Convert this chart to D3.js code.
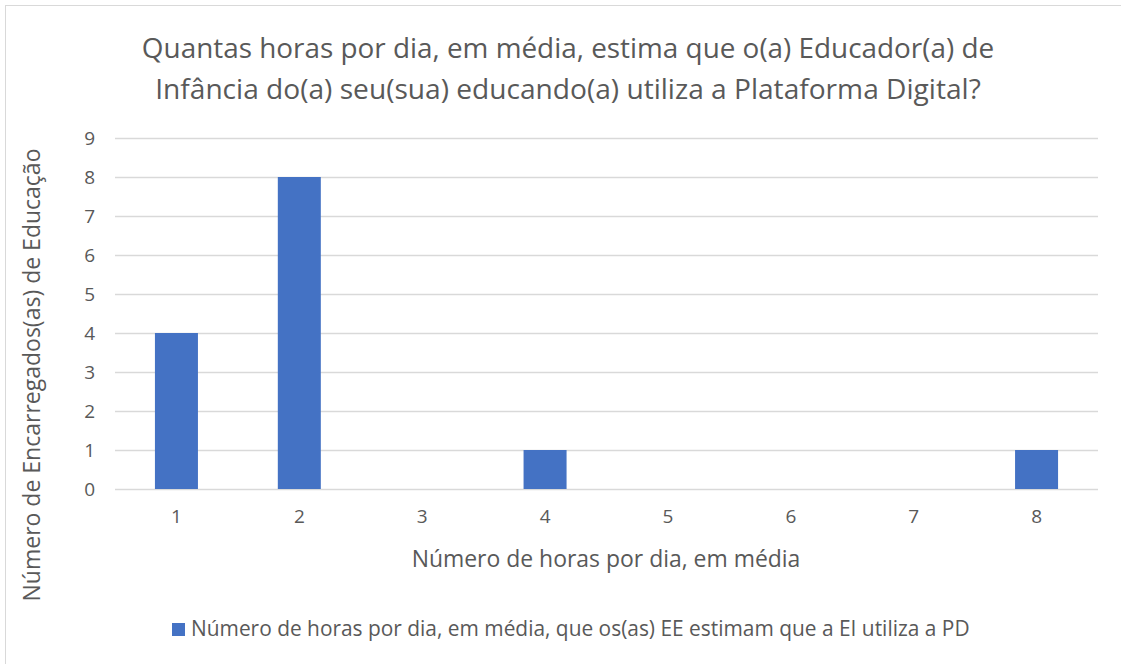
<!DOCTYPE html>
<html><head><meta charset="utf-8">
<script src="https://cdn.jsdelivr.net/npm/d3@7"></script>
<style>body{margin:0;background:#fff;}svg{display:block;font-family:"Open Sans",sans-serif;}</style>
</head><body>
<svg id="c" width="1121" height="664"></svg>
<script>
const categories = ["1","2","3","4","5","6","7","8"];
const values = [4, 8, 0, 1, 0, 0, 0, 1];
const yTicks = [0,1,2,3,4,5,6,7,8,9];
const titleLines = ["Quantas horas por dia, em média, estima que o(a) Educador(a) de","Infância do(a) seu(sua) educando(a) utiliza a Plataforma Digital?"];
const xTitle = "Número de horas por dia, em média";
const yTitle = "Número de Encarregados(as) de Educação";
const seriesName = "Número de horas por dia, em média, que os(as) EE estimam que a EI utiliza a PD";

const svg = d3.select("#c");
const textColor = "#595959";
const barColor = "#4472C4";
const gridColor = "#d9d9d9";

svg.append("rect").attr("x",5.5).attr("y",5.5).attr("width",1130).attr("height",680)
  .attr("fill","#fff").attr("stroke",gridColor).attr("stroke-width",1);

const m = {left:115, right:1098, top:138, bottom:489};
const x = d3.scaleBand().domain(categories).range([m.left, m.right]).paddingInner(0.65).paddingOuter(0.325);
const y = d3.scaleLinear().domain([0,9]).range([m.bottom, m.top]);

function fit(sel, w){ const n=sel.node(); const fs=parseFloat(sel.attr("font-size")); const cw=n.getComputedTextLength(); sel.attr("font-size", fs*w/cw); }

// grid
svg.append("g").selectAll("line").data(yTicks).join("line")
  .attr("x1",m.left).attr("x2",m.right)
  .attr("y1",d=>Math.round(y(d))+0.5).attr("y2",d=>Math.round(y(d))+0.5)
  .attr("stroke",gridColor).attr("stroke-width",1.3);

// y axis labels
const ya = svg.append("g").attr("transform",`translate(${m.left-20},0)`)
  .call(d3.axisLeft(y).tickValues(yTicks).tickSize(0).tickPadding(0).tickFormat(d3.format("d")));
ya.select(".domain").remove();
ya.attr("font-size",19).attr("font-family","Open Sans").attr("fill",textColor);
ya.selectAll("text").attr("fill",textColor);

// x axis labels
const xa = svg.append("g").attr("transform",`translate(0,${m.bottom})`)
  .call(d3.axisBottom(x).tickSize(0).tickPadding(21));
xa.select(".domain").remove();
xa.attr("font-size",19).attr("font-family","Open Sans").attr("fill",textColor);
xa.selectAll("text").attr("fill",textColor);

// bars
svg.append("g").selectAll("rect").data(values).join("rect")
  .attr("x",(d,i)=>x(categories[i])).attr("width",x.bandwidth())
  .attr("y",d=>y(d)).attr("height",d=>y(0)-y(d)).attr("fill",barColor);

// title
titleLines.forEach((t,i)=>{
  const s = svg.append("text").attr("x",568).attr("y",58+i*41).attr("text-anchor","middle")
    .attr("font-size",22).attr("fill",textColor).text(t);
  fit(s, i==0?853:826);
});

const xt = svg.append("text").attr("x",606).attr("y",567).attr("text-anchor","middle")
  .attr("font-size",18).attr("fill",textColor).text(xTitle);
fit(xt,389);

const yt = svg.append("text").attr("transform","translate(40,375) rotate(-90)").attr("text-anchor","middle")
  .attr("font-size",18).attr("fill",textColor).text(yTitle);
fit(yt,453);

// legend
svg.append("rect").attr("x",172).attr("y",623).attr("width",13).attr("height",13).attr("fill",barColor);
const lt = svg.append("text").attr("x",191).attr("y",636).attr("font-size",16).attr("fill",textColor).text(seriesName);
fit(lt,779);
</script>
</body></html>
